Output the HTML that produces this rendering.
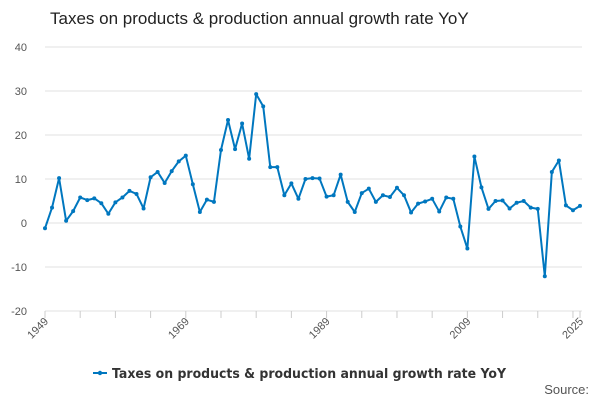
<!DOCTYPE html>
<html><head><meta charset="utf-8"><style>
body{margin:0;background:#fff;font-family:"Liberation Sans",sans-serif}
svg{display:block}
</style></head><body>
<svg id="c" width="600" height="400">
<text x="50" y="24" font-size="17" fill="#222">Taxes on products &amp; production annual growth rate YoY</text>
<g id="grid"></g><g id="xax"></g><g id="series"></g>
<g>
<line x1="93" y1="373" x2="107" y2="373" stroke="#0077bf" stroke-width="2"/>
<circle cx="100" cy="373" r="2.2" fill="#0077bf"/>
<text x="112" y="378" font-size="13" font-weight="bold" fill="#333" font-family="DejaVu Sans, sans-serif" textLength="394" lengthAdjust="spacingAndGlyphs">Taxes on products &amp; production annual growth rate YoY</text>
</g>
<text x="589" y="394" font-size="13" fill="#555" text-anchor="end">Source:</text>
</svg>
<script>
const years=[];for(let y=1949;y<=2025;y++)years.push(y);
const values=[-1.2,3.5,10.2,0.5,2.7,5.8,5.2,5.6,4.5,2.1,4.7,5.8,7.3,6.6,3.3,10.4,11.6,9.1,11.8,14.0,15.3,8.8,2.5,5.3,4.8,16.6,23.4,16.8,22.6,14.6,29.3,26.5,12.7,12.7,6.3,9.0,5.5,10.0,10.2,10.1,6.0,6.3,11.0,4.8,2.5,6.8,7.8,4.8,6.3,5.9,8.0,6.3,2.4,4.4,4.9,5.5,2.6,5.8,5.5,-0.8,-5.8,15.1,8.1,3.2,5.0,5.1,3.3,4.6,5.0,3.5,3.2,-12.1,11.6,14.2,4.0,2.9,3.9];
const yTicks=[40,30,20,10,0,-10,-20];
const xLabels=[1949,1969,1989,2009,2025];
const NS="http://www.w3.org/2000/svg";
const X=y=>45+(y-1949)*(580-45)/76;
const Y=v=>223-v*4.4;
function mk(t,a,p){const e=document.createElementNS(NS,t);for(const k in a)e.setAttribute(k,a[k]);p.appendChild(e);return e;}
const g=document.getElementById('grid'),xa=document.getElementById('xax'),s=document.getElementById('series');
yTicks.forEach(v=>{
 const l=mk('line',{x1:45,x2:582,y1:Y(v),y2:Y(v),stroke:'#e0e0e0','stroke-width':1},g);
 
 
 const t=mk('text',{x:27,y:Y(v)+4,'font-size':11,fill:'#555','text-anchor':'end'},g);
 t.textContent=v;
 
 
});
for(let y=1949;y<=2025;y+=5){const tk=mk('line',{x1:X(y),x2:X(y),y1:311,y2:318,stroke:'#ccc'},xa);}
mk('line',{x1:X(2025),x2:X(2025),y1:311,y2:318,stroke:'#ccc'},xa);
xLabels.forEach(y=>{
 const t=mk('text',{x:X(y)+4,y:322,'font-size':11,fill:'#555','text-anchor':'end',transform:`rotate(-45 ${X(y)+4} 322)`},xa);
 t.textContent=y;
 
 
});
const p=mk('polyline',{points:values.map((v,i)=>X(years[i])+','+Y(v)).join(' '),fill:'none',stroke:'#0077bf','stroke-width':2,'stroke-linejoin':'round'},s);


values.forEach((v,i)=>{
 const c=mk('circle',{cx:X(years[i]),cy:Y(v),r:2,fill:'#0077bf'},s);
 
 
});
</script>
</body></html>
